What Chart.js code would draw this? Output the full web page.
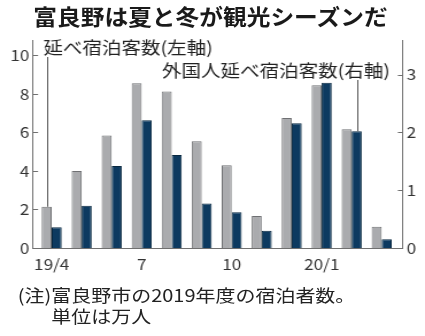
<!DOCTYPE html>
<html>
<head>
<meta charset="utf-8">
<script src="https://cdn.jsdelivr.net/npm/chart.js@4"></script>
<style>
html, body { margin: 0; padding: 0; background: #fff; overflow: hidden; }
#wrap { position: absolute; left: 0; top: 0; width: 370px; height: 336px; transform: scaleX(1.1486); transform-origin: 0 0; }
canvas { position: absolute; left: 0; top: 0; }
#title { position: absolute; left: 28.5px; top: 5px; font: bold 21.5px "Noto Sans CJK JP"; color: #1a1a1a; white-space: nowrap; line-height: 1; transform: scaleX(0.96); transform-origin: 0 0; }
#note { position: absolute; left: 15.5px; top: 283.5px; font: 17.4px "Noto Sans CJK JP"; color: #222; display: flex; line-height: 21px; white-space: nowrap; }
</style>
</head>
<body>
<div id="wrap">
    <canvas id="c" width="370" height="336"></canvas>
    <div id="title">富良野は夏と冬が観光シーズンだ</div>
    <div id="note"><span>(注)</span><span>富良野市の2019年度の宿泊者数。<br>単位は万人</span></div>
</div>
<script>
// months of fiscal 2019
const categories = ['2019/4', '2019/5', '2019/6', '2019/7', '2019/8', '2019/9',
    '2019/10', '2019/11', '2019/12', '2020/1', '2020/2', '2020/3'];
const tickLabels = ['19/4', '', '', '7', '', '', '10', '', '', '20/1', '', ''];

// 延べ宿泊客数 (left axis), 万人
const totalGuests = [2.14, 4.0, 5.84, 8.56, 8.13, 5.54, 4.3, 1.66, 6.75, 8.45, 6.17, 1.1];
// 外国人延べ宿泊客数 (right axis), 万人
const foreignGuests = [0.36, 0.73, 1.42, 2.21, 1.61, 0.77, 0.62, 0.30, 2.16, 2.86, 2.02, 0.15];

const leftTicks = [0, 2, 4, 6, 8, 10];
const rightTicks = [0, 1, 2, 3];

const FONT = '"Noto Sans CJK JP"';
const AXIS = '#707070';

// short tick marks pointing into the plot, plus the two leader labels
const extras = {
    id: 'extras',
    afterDraw(chart) {
        const ctx = chart.ctx;
        const { y, y1 } = chart.scales;
        ctx.save();
        ctx.strokeStyle = AXIS;
        ctx.lineWidth = 1;
        leftTicks.forEach(v => {
            const py = Math.round(y.getPixelForValue(v)) + 0.5;
            ctx.beginPath();
            ctx.moveTo(y.right, py);
            ctx.lineTo(y.right + 4.5, py);
            ctx.stroke();
        });
        rightTicks.forEach(v => {
            const py = Math.round(y1.getPixelForValue(v)) + 0.5;
            ctx.beginPath();
            ctx.moveTo(y1.left, py);
            ctx.lineTo(y1.left - 4.5, py);
            ctx.stroke();
        });

        const bar1 = chart.getDatasetMeta(0).data[0];
        const bar2 = chart.getDatasetMeta(1).data[10];
        ctx.strokeStyle = '#555';
        ctx.beginPath();
        ctx.moveTo(Math.round(bar1.x) + 0.5, 57);
        ctx.lineTo(Math.round(bar1.x) + 0.5, bar1.y);
        ctx.moveTo(Math.round(bar2.x) + 0.5, 80);
        ctx.lineTo(Math.round(bar2.x) + 0.5, bar2.y);
        ctx.stroke();

        ctx.fillStyle = '#222';
        ctx.font = '17px ' + FONT;
        ctx.textBaseline = 'alphabetic';
        ctx.textAlign = 'left';
        ctx.fillText('延べ宿泊客数(左軸)', 37.7, 53.5);
        ctx.textAlign = 'right';
        ctx.fillText('外国人延べ宿泊客数(右軸)', 339.5, 76.5);
        ctx.restore();
    }
};

new Chart(document.getElementById('c'), {
    type: 'bar',
    data: {
        datasets: [
            {
                label: '延べ宿泊客数',
                data: totalGuests.map((v, i) => ({ x: i, y: v })),
                yAxisID: 'y',
                backgroundColor: '#aaabae',
                borderColor: '#6f7073',
                borderWidth: 1,
            },
            {
                label: '外国人延べ宿泊客数',
                data: foreignGuests.map((v, i) => ({ x: i, y: v })),
                yAxisID: 'y1',
                backgroundColor: '#0d3a60',
                borderColor: '#082840',
                borderWidth: 1,
            },
        ],
    },
    options: {
        responsive: false,
        animation: false,
        devicePixelRatio: 1,
        categoryPercentage: 0.667,
        barPercentage: 1,
        layout: { padding: { top: 40, left: 0, right: 0, bottom: 0 } },
        plugins: {
            legend: { display: false },
            tooltip: { enabled: false },
        },
        scales: {
            x: {
                type: 'linear',
                offset: false,
                min: -0.624,
                max: 11.712,
                grid: { display: false, drawTicks: false, offset: false },
                border: { display: true, color: AXIS, width: 1 },
                afterBuildTicks: s => { s.ticks = tickLabels.map((t, i) => ({ value: i })).filter(t => tickLabels[t.value]); },
                afterFit: s => { s.height = 88; },
                ticks: {
                    autoSkip: false,
                    maxRotation: 0,
                    padding: 7,
                    color: '#333',
                    font: { family: FONT, size: 15 },
                    callback: v => tickLabels[v],
                },
            },
            y: {
                position: 'left',
                min: 0,
                max: 10.8,
                grid: { display: false, drawTicks: false },
                border: { display: true, color: AXIS, width: 1 },
                afterBuildTicks: s => { s.ticks = leftTicks.map(v => ({ value: v })); },
                afterFit: s => { s.width = 28.7; },
                ticks: { padding: 3, color: '#333', font: { family: FONT, size: 15 } },
            },
            y1: {
                position: 'right',
                min: 0,
                max: 3.6,
                grid: { display: false, drawTicks: false },
                border: { display: true, color: AXIS, width: 1 },
                afterBuildTicks: s => { s.ticks = rightTicks.map(v => ({ value: v })); },
                afterFit: s => { s.width = 19.1; },
                ticks: { padding: 3, color: '#333', font: { family: FONT, size: 15 } },
            },
        },
    },
    plugins: [extras],
});
</script>
</body>
</html>
